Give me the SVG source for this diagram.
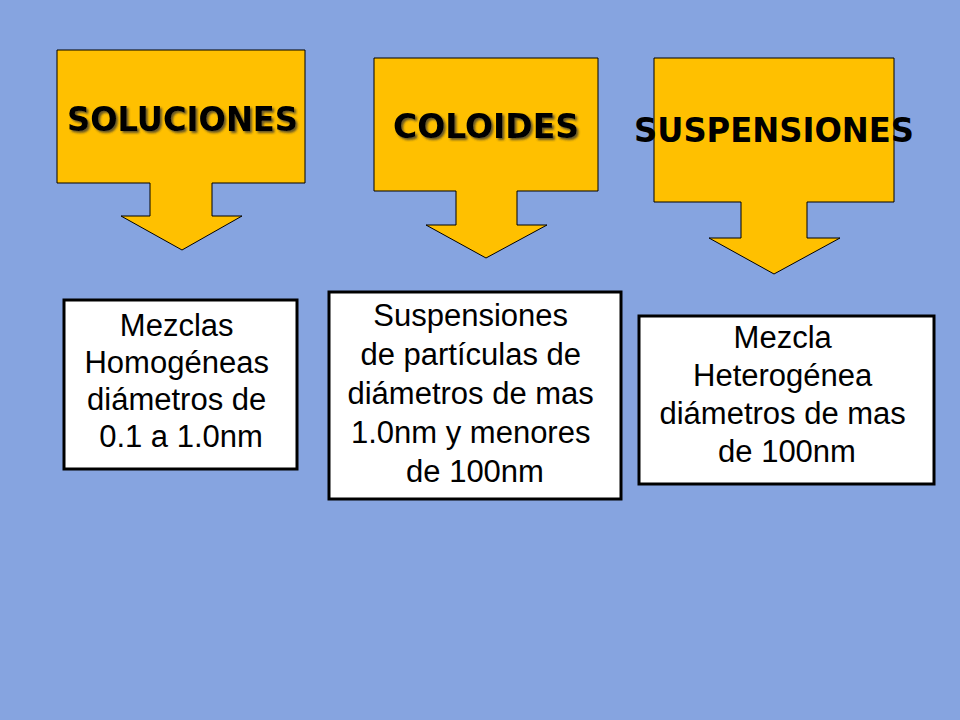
<svg xmlns="http://www.w3.org/2000/svg" width="960" height="720" viewBox="0 0 960 720">
<defs>
<filter id="shadow" x="-10%" y="-30%" width="120%" height="160%">
<feDropShadow dx="2" dy="2" stdDeviation="1.2" flood-color="#333" flood-opacity="0.75"/>
</filter>
<style>
.callout{fill:#FFC000;stroke:#000;stroke-width:1}
.title{font-family:"DejaVu Sans",Verdana,sans-serif;font-weight:bold;font-size:33px;fill:#000;text-anchor:middle}
.box{fill:#fff;stroke:#000;stroke-width:3}
.body{font-family:"Liberation Sans",Arial,sans-serif;font-size:31px;fill:#000;text-anchor:middle}
</style>
</defs>
<rect width="960" height="720" fill="#86A4E0"/>
<g id="connectors"></g>
<g id="soluciones">
<path class="callout" d="M57,50 H305 V183 H212 V216 H242 L182,250 L121,216 H150 V183 H57 Z"/>
<text class="title" x="182.5" y="131" textLength="231" lengthAdjust="spacingAndGlyphs" filter="url(#shadow)">SOLUCIONES</text>
</g>
<g id="coloides">
<path class="callout" d="M374,58 H598 V191 H517 V225 H547 L486,258 L426,225 H456 V191 H374 Z"/>
<text class="title" x="486" y="137.5" textLength="186" lengthAdjust="spacingAndGlyphs" filter="url(#shadow)">COLOIDES</text>
</g>
<g id="suspensiones">
<path class="callout" d="M654,58 H894 V202 H807 V238 H840 L774,274 L709,238 H741 V202 H654 Z"/>
<text class="title" x="774" y="142" textLength="280" lengthAdjust="spacingAndGlyphs">SUSPENSIONES</text>
</g>
<g id="desc-soluciones">
<rect class="box" x="64" y="300" width="233" height="169"/>
<text class="body" x="181">
<tspan x="181" y="336">Mezclas</tspan>
<tspan x="181" y="373">Homogéneas</tspan>
<tspan x="181" y="410">diámetros de</tspan>
<tspan x="181" y="447">0.1 a 1.0nm</tspan>
</text>
</g>
<g id="desc-coloides">
<rect class="box" x="329" y="292" width="292" height="207"/>
<text class="body" x="475">
<tspan x="475" y="326">Suspensiones</tspan>
<tspan x="475" y="365">de partículas de</tspan>
<tspan x="475" y="404">diámetros de mas</tspan>
<tspan x="475" y="443">1.0nm y menores</tspan>
<tspan x="475" y="482">de 100nm</tspan>
</text>
</g>
<g id="desc-suspensiones">
<rect class="box" x="639" y="316" width="295" height="168"/>
<text class="body" x="787">
<tspan x="787" y="348">Mezcla</tspan>
<tspan x="787" y="386">Heterogénea</tspan>
<tspan x="787" y="424">diámetros de mas</tspan>
<tspan x="787" y="462">de 100nm</tspan>
</text>
</g>
</svg>
